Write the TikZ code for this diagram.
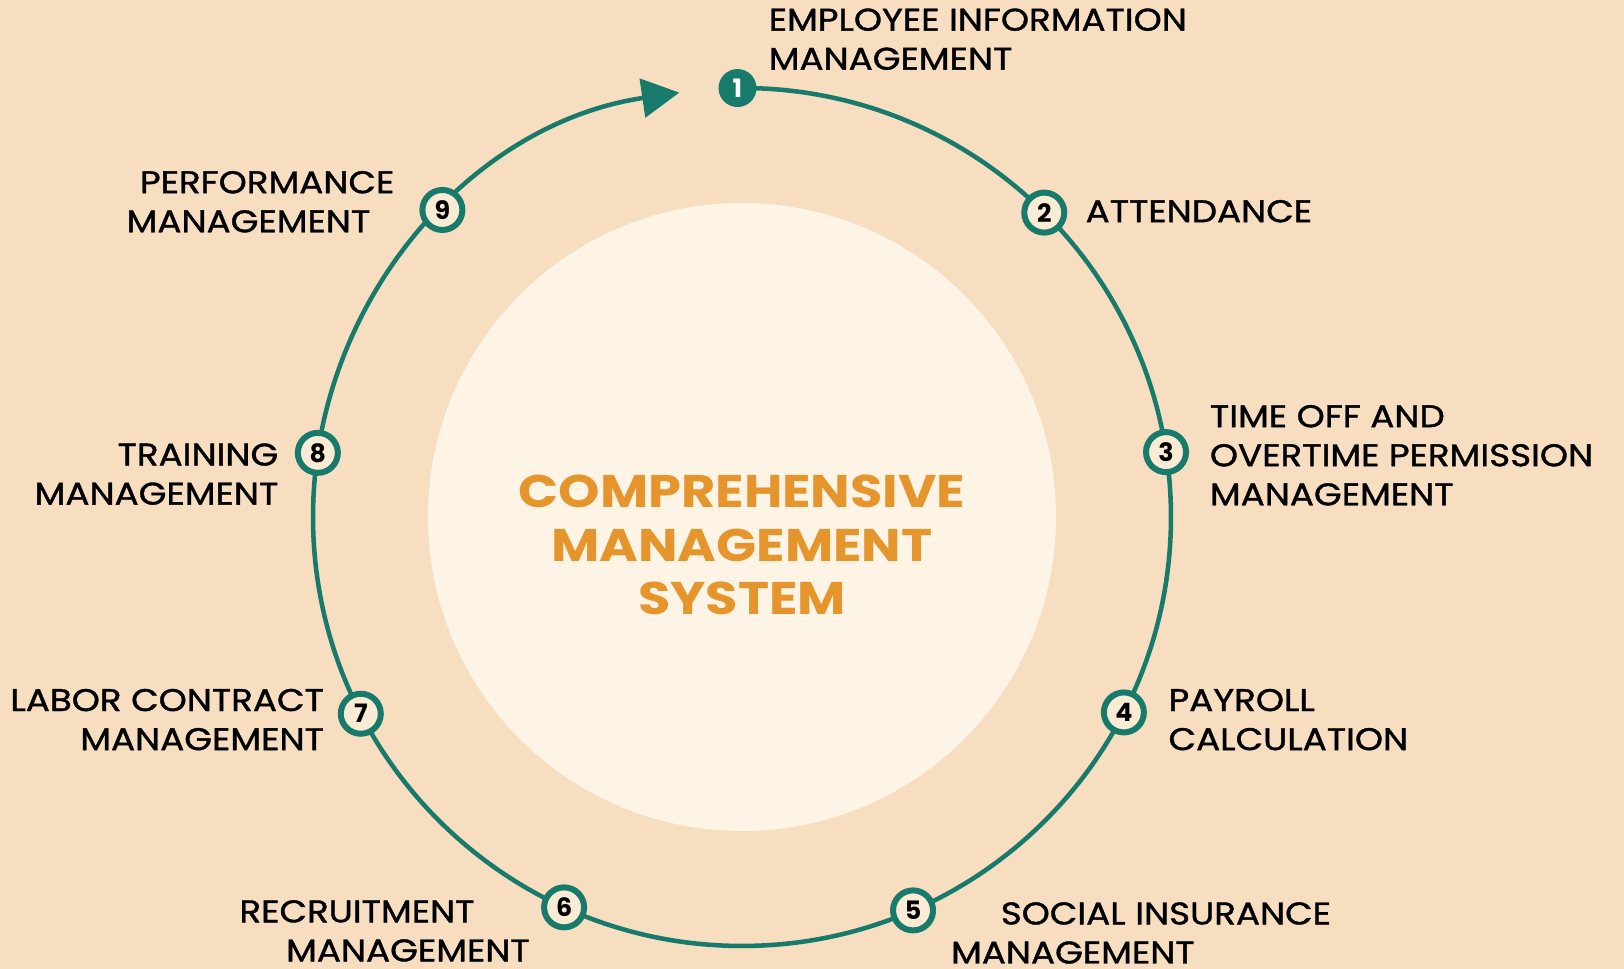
\documentclass[tikz,border=0pt]{standalone}
\usepackage{fontspec}
\setmainfont{Poppins}
\newfontfamily\lblfont{Poppins}[FakeStretch=1.14,FakeBold=1.2]
\newfontfamily\ttlfont{Poppins}[FakeStretch=1.15]
\usetikzlibrary{arrows.meta}
\definecolor{bg}{HTML}{F7DEC0}
\definecolor{innerc}{HTML}{FDF4E6}
\definecolor{teal}{HTML}{177A6B}
\definecolor{orangec}{HTML}{E5952B}
\definecolor{numfill}{HTML}{FAEBD4}
\begin{document}
\begin{tikzpicture}[x=0.75pt,y=0.75pt,
  ring/.style={draw=teal,line width=3.4pt},
  numnode/.style={circle,draw=teal,line width=4.5pt,fill=numfill,minimum size=30pt,inner sep=0pt,font=\bfseries\fontsize{19}{19}\selectfont,text=black},
  firstnode/.style={circle,fill=teal,minimum size=28.5pt,inner sep=0pt,font=\bfseries\fontsize{19}{19}\selectfont,text=white},
  lbl/.style={font=\lblfont\fontsize{23.5}{29.3}\selectfont,inner sep=0pt,text=black},
  title/.style={font=\ttlfont\bfseries\fontsize{34.3}{40}\selectfont,inner sep=0pt,text=orangec,align=center}]
\fill[bg] (-742,-452) rectangle (882,517);
\useasboundingbox (-742,-452) rectangle (882,517);
\fill[innerc] (0,0) circle (314);
\node[title] (t) at (0,-28) {COMPREHENSIVE\\MANAGEMENT\\SYSTEM};
\draw[ring,-{Triangle[length=28pt,width=29pt]}] (90.6:429) arc[start angle=90.6,end angle=-261.6,radius=429];
\node[firstnode] (n1) at (90.6:429) {1};
\node[numnode] (n2) at (45.2:429) {2};
\node[numnode] (n3) at (8.7:429) {3};
\node[numnode] (n4) at (-27.1:429) {4};
\node[numnode] (n5) at (-66.5:429) {5};
\node[numnode] (n6) at (-114.5:429) {6};
\node[numnode] (n7) at (-152.7:429) {7};
\node[numnode] (n8) at (171.4:429) {8};
\node[numnode] (n9) at (134.3:429) {9};
\node[lbl,anchor=base west,align=left] (l1) at (26.5,447.3) {EMPLOYEE INFORMATION\\MANAGEMENT};
\node[lbl,anchor=base west,align=left] (l2) at (343.4,294.8) {ATTENDANCE};
\node[lbl,anchor=base west,align=left] (l3) at (467.7,11.7) {TIME OFF AND\\OVERTIME PERMISSION\\MANAGEMENT};
\node[lbl,anchor=base west,align=left] (l4) at (426.3,-233.1) {PAYROLL\\CALCULATION};
\node[lbl,anchor=base west,align=left] (l5) at (208.8,-446.5) {\hspace*{37.3pt}SOCIAL INSURANCE\\MANAGEMENT};
\node[lbl,anchor=base west,align=left] (l6) at (-502.8,-444.4) {RECRUITMENT\\\hspace*{35pt}MANAGEMENT};
\node[lbl,anchor=base east,align=right] (l7) at (-417.8,-233.1) {LABOR CONTRACT\\MANAGEMENT};
\node[lbl,anchor=base east,align=right] (l8) at (-463.4,12.4) {TRAINING\\MANAGEMENT};
\node[lbl,anchor=base west,align=left] (l9) at (-615.6,284.7) {\hspace*{10pt}PERFORMANCE\\MANAGEMENT};
\end{tikzpicture}
\end{document}
